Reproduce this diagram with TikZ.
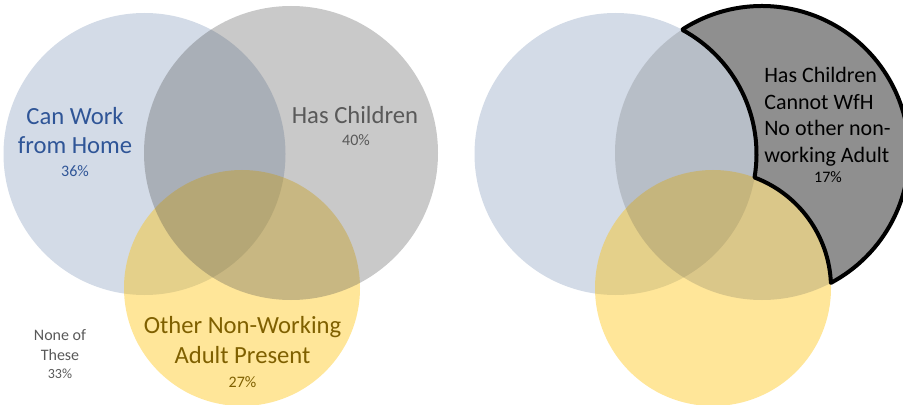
\documentclass[tikz,border=0pt]{standalone}
\usepackage{fontspec}
\setmainfont{Carlito}

\definecolor{insiemeblu}{RGB}{211,219,231}
\definecolor{insiemegrigio}{RGB}{75,75,75}
\definecolor{insiemegiallo}{RGB}{255,192,0}
\definecolor{testoblu}{RGB}{47,85,151}
\definecolor{testogrigio}{RGB}{89,89,89}
\definecolor{testooro}{RGB}{127,96,0}
\definecolor{regionescura}{RGB}{143,143,143}

\begin{document}
\begin{tikzpicture}[x=0.75pt, y=0.75pt,
  blu/.style={fill=insiemeblu},
  giallo/.style={fill=insiemegiallo, fill opacity=0.4},
  grigio/.style={fill=insiemegrigio, fill opacity=#1},
  contorno/.style={fill=regionescura, draw=black, line width=3pt, line join=round},
  titolo/.style={anchor=base, align=center, inner sep=0pt, font=\fontsize{18.5}{22}\selectfont},
  perc/.style={anchor=base, inner sep=0pt, font=\fontsize{12}{14}\selectfont}]

\useasboundingbox (0,0) rectangle (903,404);

% Centri dei cerchi
\coordinate (BL) at (144.5,250);
\coordinate (GL) at (291,251);
\coordinate (YL) at (242,116);
\coordinate (BR) at (615.5,250);
\coordinate (GR) at (762,251);
\coordinate (YR) at (713,116);

% Diagramma a sinistra
\fill[blu] (BL) circle (141);
\fill[giallo] (YL) circle (118);
\fill[grigio=0.3] (GL) circle (147);

% Diagramma a destra
\fill[blu] (BR) circle (141);
\fill[giallo] (YR) circle (118);
\fill[grigio=0.2] (GR) circle (147);

% Regione evidenziata
\draw[contorno] (GR) ++(122.55:147)
  arc[start angle=122.55, end angle=-62.05, radius=147]
  arc[start angle=2.48, end angle=69.4, radius=118]
  arc[start angle=-9.59, end angle=61.65, radius=141] -- cycle;

% Etichette a sinistra
\node[titolo, text=testoblu] (casa) at (75,250) {Can Work\\from Home};
\node[perc, text=testoblu] (casaP) at (75,228) {36\%};
\node[titolo, text=testogrigio] (figli) at (355,280) {Has Children};
\node[perc, text=testogrigio] (figliP) at (356,258) {40\%};
\node[titolo, text=testooro, font=\fontsize{18.5}{22.5}\selectfont] (adulto) at (242.5,41) {Other Non-Working\\Adult Present};
\node[perc, text=testooro] (adultoP) at (242.5,17) {27\%};
\node[titolo, text=testogrigio, font=\fontsize{12}{15}\selectfont] (nessuno) at (60,44) {None of\\These};
\node[perc, text=testogrigio, font=\fontsize{10.5}{12}\selectfont] (nessunoP) at (60,26) {33\%};

% Etichette a destra
\node[anchor=base west, align=left, inner sep=0pt, font=\fontsize{16.5}{20}\selectfont] (regione) at (764,241.5) {Has Children\\Cannot WfH\\No other non-\\working Adult};
\node[perc] (regioneP) at (828,221) {17\%};

\end{tikzpicture}
\end{document}
